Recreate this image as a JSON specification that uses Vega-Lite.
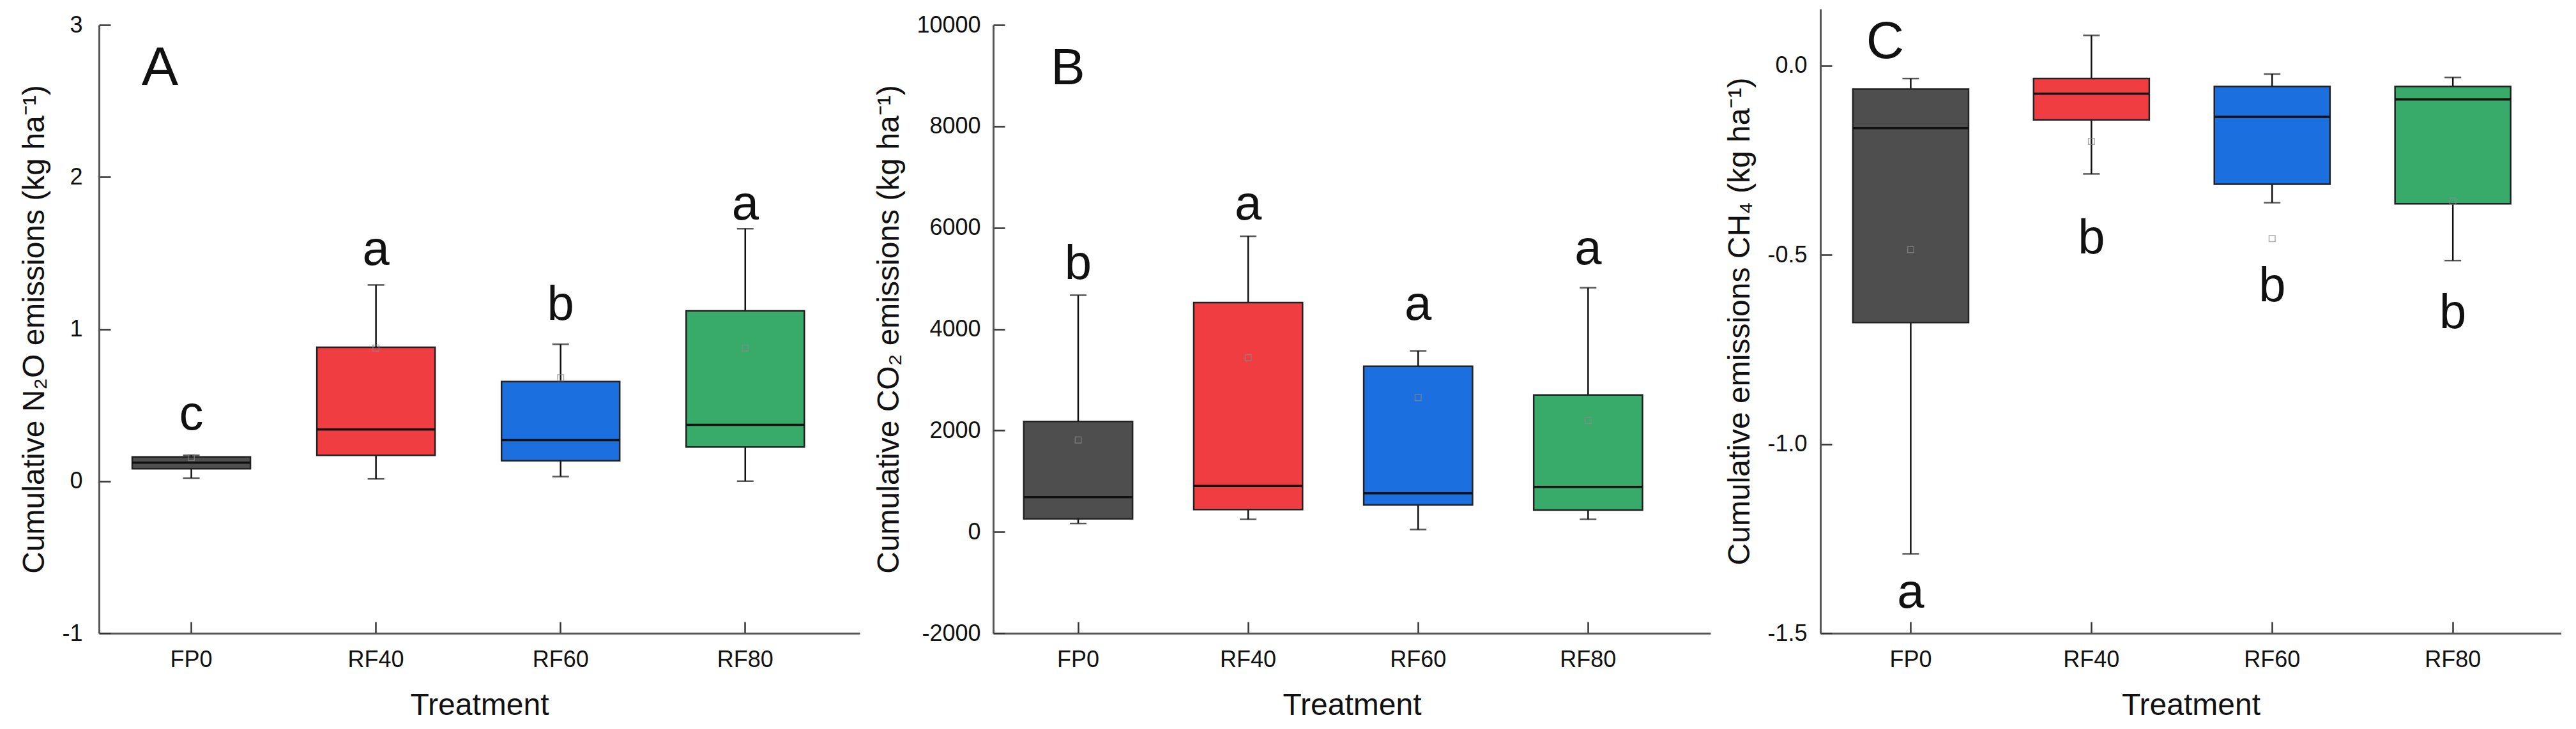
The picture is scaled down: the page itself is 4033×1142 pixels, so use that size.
{
  "$schema": "https://vega.github.io/schema/vega-lite/v6.json",
  "background": "white",
  "padding": {"left": 30, "top": 14, "right": 0, "bottom": 0},
  "spacing": 22,
  "config": {
    "font": "Liberation Sans",
    "view": {"stroke": null},
    "locale": {"number": {"decimal": ".", "thousands": "", "grouping": [3], "currency": ["", ""], "minus": "-"}},
    "axis": {"domainColor": "#555555", "domainWidth": 3, "tickColor": "#333333", "tickWidth": 2.5, "tickSize": -18, "labelFontSize": 36, "labelColor": "#111111", "titleFontSize": 48, "titleFontWeight": "normal", "titleColor": "#111111", "grid": false, "labelFont": "Liberation Sans", "titleFont": "Liberation Sans"},
    "axisX": {"labelPadding": 42, "titlePadding": 30, "labelAngle": 0},
    "axisY": {"labelPadding": 44, "titlePadding": 18},
    "text": {"font": "Liberation Sans", "color": "#111111"}
  },
  "hconcat": [
    {
      "width": 1191,
      "height": 978,
      "data": {"values": [
        {"treatment": "FP0", "lo": 0.02, "q1": 0.082, "median": 0.122, "q3": 0.159, "hi": 0.17, "mean": 0.155, "label": "c", "label_y": 0.34},
        {"treatment": "RF40", "lo": 0.015, "q1": 0.17, "median": 0.34, "q3": 0.88, "hi": 1.29, "mean": 0.875, "label": "a", "label_y": 1.42},
        {"treatment": "RF60", "lo": 0.03, "q1": 0.134, "median": 0.27, "q3": 0.655, "hi": 0.9, "mean": 0.68, "label": "b", "label_y": 1.06},
        {"treatment": "RF80", "lo": 0.0, "q1": 0.225, "median": 0.37, "q3": 1.12, "hi": 1.66, "mean": 0.875, "label": "a", "label_y": 1.72}
      ]},
      "encoding": {
        "x": {"field": "treatment", "type": "nominal", "sort": ["FP0", "RF40", "RF60", "RF80"],
              "scale": {"type": "band", "paddingInner": 0.36, "paddingOuter": 0.24, "align": 0.375},
              "axis": {"title": "Treatment", "labelPadding": 42}}
      },
      "layer": [
        {"mark": {"type": "rule", "color": "#111111", "strokeWidth": 2.5},
         "encoding": {"y": {"field": "lo", "type": "quantitative", "scale": {"domain": [-1, 3], "range": [978, 25], "nice": false, "zero": false},
                            "axis": {"title": "Cumulative N₂O emissions (kg ha⁻¹)", "values": [-1, 0, 1, 2, 3], "format": "d", "labelPadding": 44}},
                      "y2": {"field": "hi"}}},
        {"mark": {"type": "tick", "color": "#111111", "thickness": 2.5, "size": 26},
         "encoding": {"y": {"field": "lo", "type": "quantitative"}}},
        {"mark": {"type": "tick", "color": "#111111", "thickness": 2.5, "size": 26},
         "encoding": {"y": {"field": "hi", "type": "quantitative"}}},
        {"mark": {"type": "bar", "stroke": "#222222", "strokeWidth": 2.5},
         "encoding": {"y": {"field": "q1", "type": "quantitative"}, "y2": {"field": "q3"},
                      "color": {"field": "treatment", "type": "nominal", "scale": {"domain": ["FP0", "RF40", "RF60", "RF80"], "range": ["#4e4e4e", "#ef3d42", "#1c6fde", "#38ab6a"]}, "legend": null}}},
        {"mark": {"type": "bar", "fillOpacity": 0, "stroke": "#111111", "strokeWidth": 3.5},
         "encoding": {"y": {"field": "median", "type": "quantitative"}, "y2": {"field": "median"}}},
        {"mark": {"type": "point", "shape": "square", "filled": false, "size": 90, "stroke": "#8a8a8a", "strokeWidth": 1.5},
         "encoding": {"y": {"field": "mean", "type": "quantitative"}}},
        {"mark": {"type": "text", "fontSize": 76, "baseline": "alphabetic", "align": "center"},
         "encoding": {"y": {"field": "label_y", "type": "quantitative"}, "text": {"field": "label"}}},
        {"data": {"values": [{"treatment": "FP0", "v": 2.606, "panel": "A"}]},
         "mark": {"type": "text", "fontSize": 86, "baseline": "alphabetic", "align": "center", "dx": -49},
         "encoding": {"y": {"field": "v", "type": "quantitative"}, "text": {"field": "panel"}}}
      ]
    },
    {
      "width": 1123,
      "height": 978,
      "data": {"values": [
        {"treatment": "FP0", "lo": 165, "q1": 256, "median": 686, "q3": 2178, "hi": 4668, "mean": 1812, "label": "b", "label_y": 4989},
        {"treatment": "RF40", "lo": 247, "q1": 439, "median": 906, "q3": 4522, "hi": 5831, "mean": 3432, "label": "a", "label_y": 6160},
        {"treatment": "RF60", "lo": 46, "q1": 531, "median": 760, "q3": 3268, "hi": 3570, "mean": 2645, "label": "a", "label_y": 4183},
        {"treatment": "RF80", "lo": 247, "q1": 430, "median": 888, "q3": 2700, "hi": 4815, "mean": 2197, "label": "a", "label_y": 5281}
      ]},
      "encoding": {
        "x": {"field": "treatment", "type": "nominal", "sort": ["FP0", "RF40", "RF60", "RF80"],
              "scale": {"type": "band", "paddingInner": 0.36, "paddingOuter": 0.29, "align": 0.31},
              "axis": {"title": "Treatment", "labelPadding": 42}}
      },
      "layer": [
        {"mark": {"type": "rule", "color": "#111111", "strokeWidth": 2.5},
         "encoding": {"y": {"field": "lo", "type": "quantitative", "scale": {"domain": [-2000, 10000], "range": [978, 25], "nice": false, "zero": false},
                            "axis": {"title": "Cumulative CO₂ emissions (kg ha⁻¹)", "values": [-2000, 0, 2000, 4000, 6000, 8000, 10000], "format": "d", "labelPadding": 38}},
                      "y2": {"field": "hi"}}},
        {"mark": {"type": "tick", "color": "#111111", "thickness": 2.5, "size": 26},
         "encoding": {"y": {"field": "lo", "type": "quantitative"}}},
        {"mark": {"type": "tick", "color": "#111111", "thickness": 2.5, "size": 26},
         "encoding": {"y": {"field": "hi", "type": "quantitative"}}},
        {"mark": {"type": "bar", "stroke": "#222222", "strokeWidth": 2.5},
         "encoding": {"y": {"field": "q1", "type": "quantitative"}, "y2": {"field": "q3"},
                      "color": {"field": "treatment", "type": "nominal", "scale": {"domain": ["FP0", "RF40", "RF60", "RF80"], "range": ["#4e4e4e", "#ef3d42", "#1c6fde", "#38ab6a"]}, "legend": null}}},
        {"mark": {"type": "bar", "fillOpacity": 0, "stroke": "#111111", "strokeWidth": 3.5},
         "encoding": {"y": {"field": "median", "type": "quantitative"}, "y2": {"field": "median"}}},
        {"mark": {"type": "point", "shape": "square", "filled": false, "size": 90, "stroke": "#8a8a8a", "strokeWidth": 1.5},
         "encoding": {"y": {"field": "mean", "type": "quantitative"}}},
        {"mark": {"type": "text", "fontSize": 76, "baseline": "alphabetic", "align": "center"},
         "encoding": {"y": {"field": "label_y", "type": "quantitative"}, "text": {"field": "label"}}},
        {"data": {"values": [{"treatment": "FP0", "v": 8830, "panel": "B"}]},
         "mark": {"type": "text", "fontSize": 80, "baseline": "alphabetic", "align": "center", "dx": -16},
         "encoding": {"y": {"field": "v", "type": "quantitative"}, "text": {"field": "panel"}}}
      ]
    },
    {
      "width": 1160,
      "height": 978,
      "data": {"values": [
        {"treatment": "FP0", "lo": -1.29, "q1": -0.679, "median": -0.165, "q3": -0.0616, "hi": -0.034, "mean": -0.486, "label": "a", "label_y": -1.432},
        {"treatment": "RF40", "lo": -0.286, "q1": -0.143, "median": -0.074, "q3": -0.034, "hi": 0.08, "mean": -0.2, "label": "b", "label_y": -0.496},
        {"treatment": "RF60", "lo": -0.362, "q1": -0.313, "median": -0.135, "q3": -0.055, "hi": -0.022, "mean": -0.457, "label": "b", "label_y": -0.623},
        {"treatment": "RF80", "lo": -0.515, "q1": -0.365, "median": -0.089, "q3": -0.055, "hi": -0.031, "mean": -0.358, "label": "b", "label_y": -0.693}
      ]},
      "encoding": {
        "x": {"field": "treatment", "type": "nominal", "sort": ["FP0", "RF40", "RF60", "RF80"],
              "scale": {"type": "band", "paddingInner": 0.36, "paddingOuter": 0.23, "align": 0.391},
              "axis": {"title": "Treatment", "labelPadding": 42}}
      },
      "layer": [
        {"mark": {"type": "rule", "color": "#111111", "strokeWidth": 2.5},
         "encoding": {"y": {"field": "lo", "type": "quantitative", "scale": {"domain": [-1.5, 0.15], "nice": false, "zero": false},
                            "axis": {"title": "Cumulative emissions CH₄ (kg ha⁻¹)", "values": [-1.5, -1.0, -0.5, 0.0], "format": ".1f", "labelPadding": 39}},
                      "y2": {"field": "hi"}}},
        {"mark": {"type": "tick", "color": "#111111", "thickness": 2.5, "size": 26},
         "encoding": {"y": {"field": "lo", "type": "quantitative"}}},
        {"mark": {"type": "tick", "color": "#111111", "thickness": 2.5, "size": 26},
         "encoding": {"y": {"field": "hi", "type": "quantitative"}}},
        {"mark": {"type": "bar", "stroke": "#222222", "strokeWidth": 2.5},
         "encoding": {"y": {"field": "q1", "type": "quantitative"}, "y2": {"field": "q3"},
                      "color": {"field": "treatment", "type": "nominal", "scale": {"domain": ["FP0", "RF40", "RF60", "RF80"], "range": ["#4e4e4e", "#ef3d42", "#1c6fde", "#38ab6a"]}, "legend": null}}},
        {"mark": {"type": "bar", "fillOpacity": 0, "stroke": "#111111", "strokeWidth": 3.5},
         "encoding": {"y": {"field": "median", "type": "quantitative"}, "y2": {"field": "median"}}},
        {"mark": {"type": "point", "shape": "square", "filled": false, "size": 90, "stroke": "#8a8a8a", "strokeWidth": 1.5},
         "encoding": {"y": {"field": "mean", "type": "quantitative"}}},
        {"mark": {"type": "text", "fontSize": 76, "baseline": "alphabetic", "align": "center"},
         "encoding": {"y": {"field": "label_y", "type": "quantitative"}, "text": {"field": "label"}}},
        {"data": {"values": [{"treatment": "FP0", "v": 0.02, "panel": "C"}]},
         "mark": {"type": "text", "fontSize": 82, "baseline": "alphabetic", "align": "center", "dx": -40},
         "encoding": {"y": {"field": "v", "type": "quantitative"}, "text": {"field": "panel"}}}
      ]
    }
  ]
}
